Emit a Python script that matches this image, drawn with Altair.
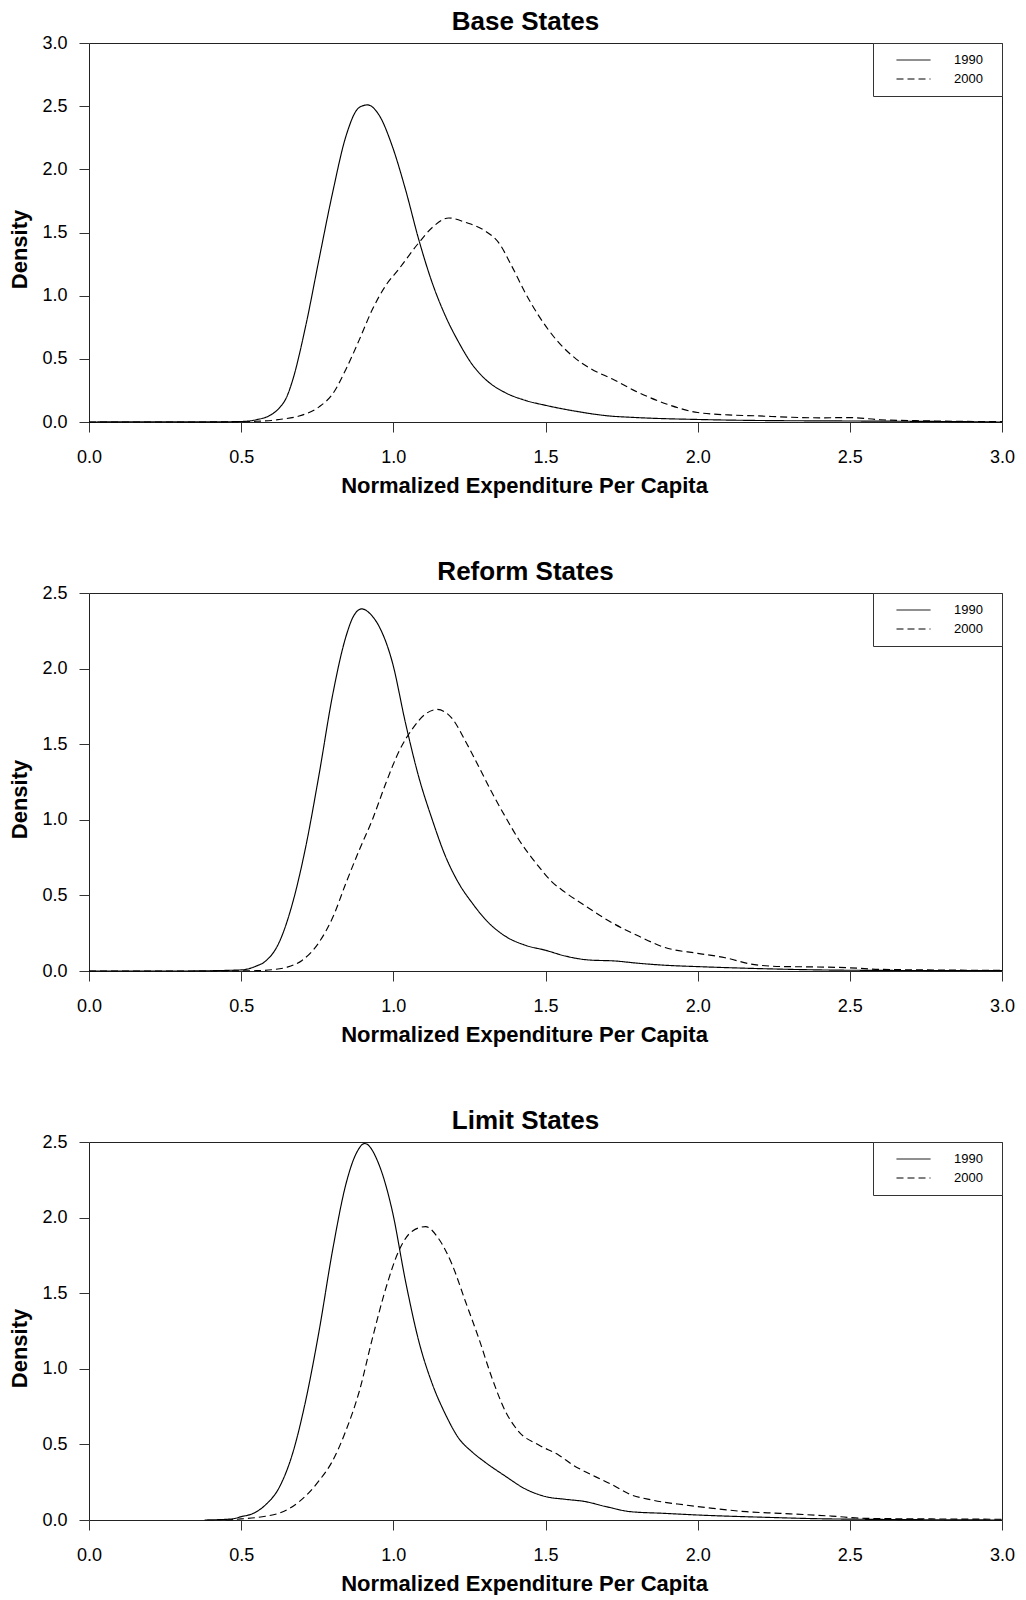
import altair as alt
import pandas as pd

PANEL_TITLES = ["Base States", "Reform States", "Limit States"]
YEARS = ["1990", "2000"]
X_TICKS = [0.0, 0.5, 1.0, 1.5, 2.0, 2.5, 3.0]
Y_TICKS_30 = [0.0, 0.5, 1.0, 1.5, 2.0, 2.5, 3.0]
Y_TICKS_25 = [0.0, 0.5, 1.0, 1.5, 2.0, 2.5]
X_TITLE = "Normalized Expenditure Per Capita"
Y_TITLE = "Density"

# Base States
base_1990_x = [0.0, 0.2, 0.4, 0.5, 0.55, 0.6, 0.625, 0.65, 0.669, 0.712, 0.756, 0.8, 0.844, 0.888, 0.915,
               0.953, 0.997, 1.04, 1.084, 1.128, 1.171, 1.215, 1.259, 1.303, 1.368, 1.434, 1.5, 1.6, 1.7,
               1.8, 2.0, 2.2, 2.5, 2.8, 3.0]
base_1990_y = [0.0, 0.002, 0.001, 0.004, 0.018, 0.06, 0.11, 0.2, 0.33, 0.76, 1.29, 1.81, 2.26, 2.49, 2.51,
               2.43, 2.18, 1.84, 1.44, 1.1, 0.84, 0.63, 0.456, 0.337, 0.232, 0.171, 0.132, 0.085, 0.05,
               0.035, 0.02, 0.012, 0.008, 0.004, 0.0]
base_2000_x = [0.0, 0.3, 0.5, 0.55, 0.6, 0.625, 0.69, 0.756, 0.8, 0.844, 0.888, 0.931, 0.975, 1.018, 1.084,
               1.128, 1.182, 1.237, 1.303, 1.346, 1.39, 1.434, 1.478, 1.543, 1.6, 1.65, 1.72, 1.8, 1.9,
               2.0, 2.1, 2.2, 2.3, 2.4, 2.5, 2.6, 2.75, 3.0]
base_2000_y = [0.0, 0.0, 0.002, 0.006, 0.012, 0.02, 0.047, 0.12, 0.22, 0.416, 0.65, 0.89, 1.08, 1.21, 1.42,
               1.54, 1.615, 1.58, 1.51, 1.42, 1.23, 1.02, 0.84, 0.63, 0.5, 0.42, 0.34, 0.24, 0.14,
               0.075, 0.056, 0.048, 0.038, 0.033, 0.035, 0.018, 0.009, 0.003]

# Reform States
reform_1990_x = [0.0, 0.3, 0.5, 0.55, 0.58, 0.625, 0.669, 0.712, 0.756, 0.8, 0.844, 0.87, 0.896, 0.925,
                 0.953, 0.997, 1.04, 1.084, 1.128, 1.171, 1.215, 1.259, 1.303, 1.368, 1.434, 1.5, 1.565,
                 1.642, 1.73, 1.806, 1.893, 2.0, 2.2, 2.5, 3.0]
reform_1990_y = [0.0, 0.0, 0.007, 0.033, 0.065, 0.19, 0.45, 0.82, 1.3, 1.82, 2.21, 2.35, 2.395, 2.36,
                 2.28, 2.04, 1.64, 1.28, 1.0, 0.76, 0.58, 0.45, 0.34, 0.23, 0.17, 0.137, 0.099,
                 0.073, 0.066, 0.051, 0.038, 0.029, 0.016, 0.005, 0.002]
reform_2000_x = [0.0, 0.4, 0.55, 0.6, 0.65, 0.7, 0.756, 0.8, 0.844, 0.888, 0.931, 0.975, 1.018, 1.062,
                 1.106, 1.144, 1.193, 1.237, 1.281, 1.324, 1.368, 1.412, 1.478, 1.521, 1.565, 1.631,
                 1.718, 1.806, 1.893, 2.0, 2.09, 2.175, 2.27, 2.38, 2.49, 2.6, 3.0]
reform_2000_y = [0.0, 0.0, 0.002, 0.008, 0.025, 0.07, 0.19, 0.35, 0.58, 0.8, 1.0, 1.24, 1.45, 1.6,
                 1.7, 1.73, 1.67, 1.52, 1.35, 1.18, 1.02, 0.87, 0.69, 0.59, 0.52, 0.43,
                 0.32, 0.231, 0.155, 0.117, 0.088, 0.046, 0.03, 0.027, 0.022, 0.011, 0.004]

# Limit States
limit_1990_x = [0.38, 0.47, 0.5, 0.54, 0.58, 0.625, 0.669, 0.712, 0.756, 0.8, 0.844, 0.877, 0.906, 0.953,
                0.997, 1.04, 1.084, 1.128, 1.171, 1.215, 1.259, 1.303, 1.368, 1.434, 1.5, 1.565, 1.63,
                1.7, 1.78, 1.89, 2.0, 2.22, 2.44, 3.0]
limit_1990_y = [0.0, 0.007, 0.022, 0.044, 0.1, 0.215, 0.44, 0.79, 1.25, 1.78, 2.22, 2.42, 2.49, 2.35,
                2.04, 1.58, 1.18, 0.9, 0.7, 0.54, 0.45, 0.38, 0.29, 0.205, 0.155, 0.137, 0.122,
                0.088, 0.055, 0.044, 0.033, 0.018, 0.007, 0.0]
limit_2000_x = [0.45, 0.5, 0.58, 0.625, 0.69, 0.756, 0.8, 0.844, 0.888, 0.931, 0.975, 1.018, 1.062, 1.106,
                1.149, 1.193, 1.237, 1.281, 1.324, 1.368, 1.412, 1.478, 1.543, 1.59, 1.65, 1.72, 1.78,
                1.85, 1.96, 2.05, 2.16, 2.27, 2.44, 2.55, 2.77, 3.0]
limit_2000_y = [0.0, 0.007, 0.025, 0.045, 0.12, 0.26, 0.39, 0.59, 0.85, 1.2, 1.53, 1.78, 1.91, 1.94,
                1.86, 1.69, 1.445, 1.2, 0.94, 0.72, 0.585, 0.496, 0.43, 0.364, 0.3, 0.232, 0.168,
                0.132, 0.099, 0.077, 0.055, 0.044, 0.026, 0.011, 0.007, 0.005]

FONT = "Liberation Sans"
# three spaces kept from trimming by a trailing zero-width space, to widen the legend box
LABEL_PAD = "   \u200b"


def panel(title, y_ticks, s1990, s2000, height):
    rows = []
    for year, (xs, ys) in zip(YEARS, [s1990, s2000]):
        for a, b in zip(xs, ys):
            rows.append({"x": a, "density": b, "year": year})
    df = pd.DataFrame(rows)
    return (
        alt.Chart(df, title=alt.Title(title))
        .mark_line(color="black", strokeWidth=1.15, interpolate="monotone")
        .encode(
            x=alt.X("x:Q", scale=alt.Scale(domain=[0, 3], nice=False, zero=False),
                    axis=alt.Axis(values=X_TICKS, format=".1f", title=X_TITLE, titleX=435,
                                  labelFlush=False)),
            y=alt.Y("density:Q", scale=alt.Scale(domain=[y_ticks[0], y_ticks[-1]], nice=False),
                    axis=alt.Axis(values=y_ticks, format=".1f", title=Y_TITLE, titleY=206)),
            strokeDash=alt.StrokeDash(
                "year:N",
                scale=alt.Scale(domain=YEARS, range=[[1, 0], [7, 4]]),
                legend=alt.Legend(
                    title=None, orient="top-right", offset=0, strokeColor="#333", fillColor="white",
                    padding=8, symbolType="stroke", symbolSize=1156, symbolStrokeWidth=1,
                    symbolStrokeColor="black", symbolOffset=15, labelOffset=23, labelFontSize=13,
                    labelFont=FONT, labelColor="black",
                    labelExpr="datum.label + '" + LABEL_PAD + "'",
                    clipHeight=18, rowPadding=1,
                ),
            ),
            detail="year:N",
        )
        .properties(width=913, height=height)
    )


p1 = panel(PANEL_TITLES[0], Y_TICKS_30, (base_1990_x, base_1990_y), (base_2000_x, base_2000_y), 379)
p2 = panel(PANEL_TITLES[1], Y_TICKS_25, (reform_1990_x, reform_1990_y), (reform_2000_x, reform_2000_y), 378)
p3 = panel(PANEL_TITLES[2], Y_TICKS_25, (limit_1990_x, limit_1990_y), (limit_2000_x, limit_2000_y), 378)

chart = (
    alt.vconcat(p1, p2, p3, spacing=61)
    .resolve_scale(strokeDash="independent")
    .resolve_legend(strokeDash="independent")
    .properties(padding=0)
    .configure(font=FONT)
    .configure_view(stroke="#222", strokeWidth=1)
    .configure_axis(grid=False, domain=False, tickColor="#333", tickSize=10, tickWidth=1,
                    labelFontSize=18, labelColor="black", labelFont=FONT,
                    titleFontSize=22, titleFontWeight="bold", titleColor="black", titleFont=FONT)
    .configure_axisX(labelPadding=16, titlePadding=9)
    .configure_axisY(labelPadding=12, titlePadding=10)
    .configure_title(fontSize=26, font=FONT, fontWeight="bold", offset=-1, dx=-20, anchor="middle",
                     color="black")
)

chart.save("out.html", embed_options={"renderer": "svg", "actions": False})
